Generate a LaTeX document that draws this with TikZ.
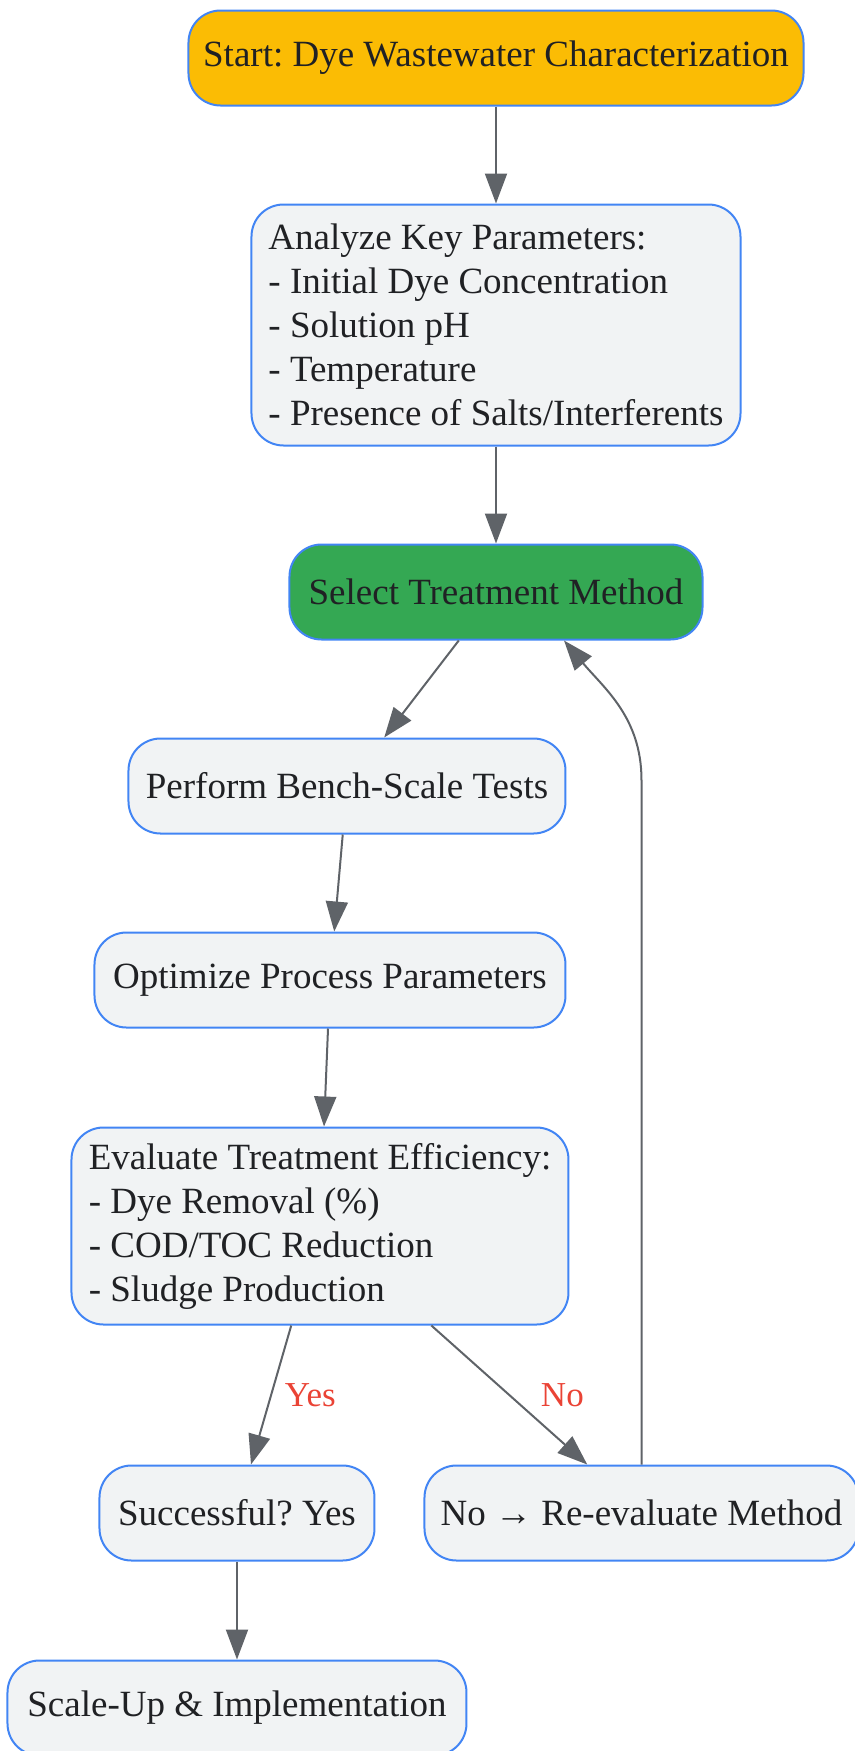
\documentclass[tikz,border=0pt]{standalone}
\usepackage{fontspec}
\setmainfont{Liberation Serif}
\usetikzlibrary{positioning,arrows.meta}
\definecolor{boxblue}{HTML}{4285F4}
\definecolor{boxgray}{HTML}{F1F3F4}
\definecolor{startamber}{HTML}{FBBC04}
\definecolor{selectgreen}{HTML}{34A853}
\definecolor{arrowgray}{HTML}{5F6368}
\definecolor{textdark}{HTML}{202124}
\definecolor{labelred}{HTML}{EA4335}
\frenchspacing

\begin{document}
\begin{tikzpicture}[->,
    >={Triangle[length=15pt,width=11pt]},
    node distance=48.5pt,
    line width=1pt,
    draw=arrowgray,
    box/.style={draw=boxblue, fill=boxgray, rounded corners=16pt, text=textdark,
        font=\fontsize{18.5pt}{22pt}\selectfont, minimum height=47.5pt, inner xsep=6pt},
    lbl/.style={text=labelred, font=\fontsize{17.5pt}{21pt}\selectfont}]
    \useasboundingbox (-248pt,29pt) rectangle (179.5pt,-846.5pt);

    \node[box, fill=startamber, minimum width=307.5pt] (start) {Start: Dye Wastewater Characterization};
    \node[box, align=left, minimum width=244.5pt, minimum height=120.5pt] (analyze) [below=of start]
        {Analyze Key Parameters:\\- Initial Dye Concentration\\- Solution pH\\- Temperature\\- Presence of Salts/Interferents};
    \node[box, fill=selectgreen, minimum width=206.5pt] (select) [below=of analyze] {Select Treatment Method};
    \node[box, minimum width=218.5pt] (perform) [below=of select, xshift=-74.5pt] {Perform Bench-Scale Tests};
    \node[box, minimum width=235.5pt] (optimize) [below=of perform, xshift=-8.5pt] {Optimize Process Parameters};
    \node[box, align=left, minimum width=248.5pt, minimum height=98.5pt] (evaluate) [below=49pt of optimize, xshift=-5pt]
        {Evaluate Treatment Efficiency:\\- Dye Removal (\%)\\- COD/TOC Reduction\\- Sludge Production};
    \node[box, minimum width=137.5pt] (successful) [below=69.5pt of evaluate, xshift=-41.5pt] {Successful? Yes};
    \node[box, minimum width=217pt] (reeval) [right=24pt of successful] {No → Re-evaluate Method};
    \node[box, minimum width=229.5pt] (scaleup) [below=49pt of successful] {Scale-Up \& Implementation};

    \path (start) edge (analyze)
          (analyze) edge (select)
          (select) edge (perform)
          (perform) edge (optimize)
          (optimize) edge (evaluate)
          (evaluate) edge node[lbl, right=3pt] {Yes} (successful)
          (evaluate) edge node[lbl, right=12pt] {No} (reeval)
          (successful) edge (scaleup);

    % back to method selection
    \coordinate (loopbend) at ([yshift=3pt]reeval.north |- perform.center);
    \draw (reeval.north) -- (loopbend) to[out=90, in=-50] ([xshift=34pt]select.south);
\end{tikzpicture}
\end{document}
